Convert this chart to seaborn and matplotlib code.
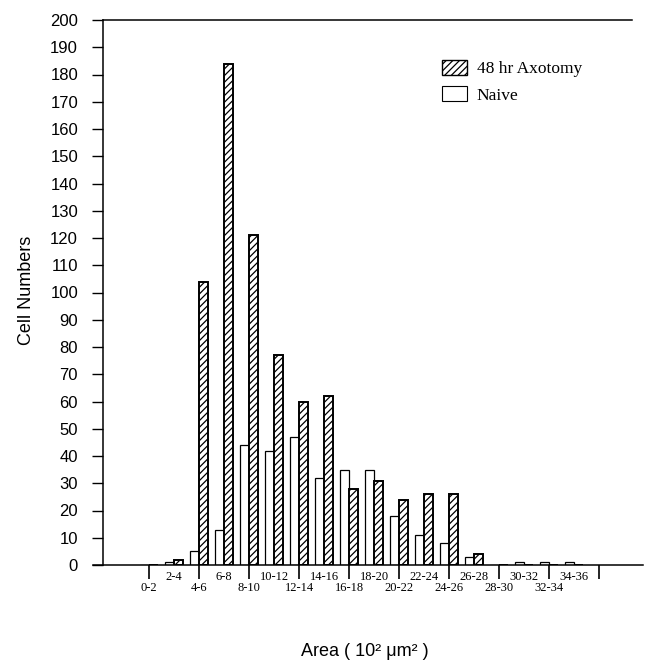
import matplotlib
matplotlib.use("Agg")
import matplotlib.pyplot as plt
from matplotlib.patches import Patch
import seaborn as sns
import pandas as pd

categories = ["0-2", "2-4", "4-6", "6-8", "8-10", "10-12", "12-14", "14-16", "16-18",
              "18-20", "20-22", "22-24", "24-26", "26-28", "28-30", "30-32", "32-34", "34-36"]
naive = [0, 1, 5, 13, 44, 42, 47, 32, 35, 35, 18, 11, 8, 3, 0, 1, 1, 1]
axotomy = [0, 2, 104, 184, 121, 77, 60, 62, 28, 31, 24, 26, 26, 4, 0, 0, 0, 0]
series_names = ["Naive", "48 hr Axotomy"]
y_ticks = list(range(0, 201, 10))

df = pd.DataFrame({
    "Area": categories * 2,
    "Count": naive + axotomy,
    "Group": [series_names[0]] * len(categories) + [series_names[1]] * len(categories),
})

sns.set_theme(style="white")
plt.rcParams["font.family"] = ["Liberation Sans", "DejaVu Sans"]
plt.rcParams["hatch.linewidth"] = 0.9
plt.rcParams["text.color"] = "black"

fig = plt.figure(figsize=(6.45, 6.64), dpi=100)
ax = fig.add_axes([93 / 645, 1 - 565 / 664, 550 / 645, 545 / 664])

sns.barplot(data=df, x="Area", y="Count", hue="Group", order=categories,
            hue_order=series_names, width=0.7, dodge=True, legend=False,
            palette=["white", "white"], ax=ax, saturation=1)

for bar in ax.containers[0]:
    bar.set_edgecolor("black")
    bar.set_linewidth(0.9)
for bar in ax.containers[1]:
    bar.set_edgecolor("black")
    bar.set_linewidth(1.4)
    bar.set_hatch("/////")

ax.set_xlim(-2.24, 19.76)
ax.set_ylim(0, 200)

for s in ["left", "top", "bottom"]:
    ax.spines[s].set_visible(True)
    ax.spines[s].set_color("black")
    ax.spines[s].set_linewidth(1.1)
ax.spines["right"].set_visible(False)
ax.spines["left"].set_position(("data", -1.84))
ax.spines["top"].set_bounds(-1.84, 19.32)

ax.set_yticks(y_ticks)
ax.set_yticklabels([str(v) for v in y_ticks], fontsize=12)
ax.tick_params(axis="y", direction="out", length=8, width=1, pad=10, left=True,
               colors="black", labelcolor="black")

major_pos = list(range(0, 19, 2))
major_labels = [categories[i] if i < len(categories) else "" for i in major_pos]
minor_pos = list(range(1, 18, 2))
minor_labels = [categories[i] for i in minor_pos]
ax.set_xticks(major_pos)
ax.set_xticklabels(major_labels, fontsize=9, family=["Liberation Serif"])
ax.set_xticks(minor_pos, minor=True)
ax.set_xticklabels(minor_labels, minor=True, fontsize=9, family=["Liberation Serif"])
ax.tick_params(axis="x", which="major", direction="out", length=10, width=1.2,
               pad=2.0, bottom=True, colors="black", labelcolor="black")
ax.tick_params(axis="x", which="minor", direction="out", length=0, pad=4.0,
               bottom=True, colors="black", labelcolor="black")
ax.set_xlabel("")
ax.set_ylabel("")

fig.text(27 / 645, 1 - 290 / 664, "Cell Numbers", rotation=90, ha="center", va="center",
         fontsize=13, color="black")
fig.text(365 / 645, 1 - 652 / 664, "Area ( 10² μm² )", ha="center", va="center",
         fontsize=13, color="black")

handles = [Patch(facecolor="white", edgecolor="black", hatch="/////", linewidth=1.0, label=series_names[1]),
           Patch(facecolor="white", edgecolor="black", linewidth=0.8, label=series_names[0])]
fig.legend(handles=handles, loc="upper left", bbox_to_anchor=(442 / 645, 1 - 60 / 664),
           frameon=False, borderpad=0, borderaxespad=0, handlelength=1.45, handleheight=0.95,
           handletextpad=0.55, labelspacing=0.5, prop={"family": "Liberation Serif", "size": 12.5},
           labelcolor="black")

fig.savefig("out.png", dpi=100, facecolor="white")
